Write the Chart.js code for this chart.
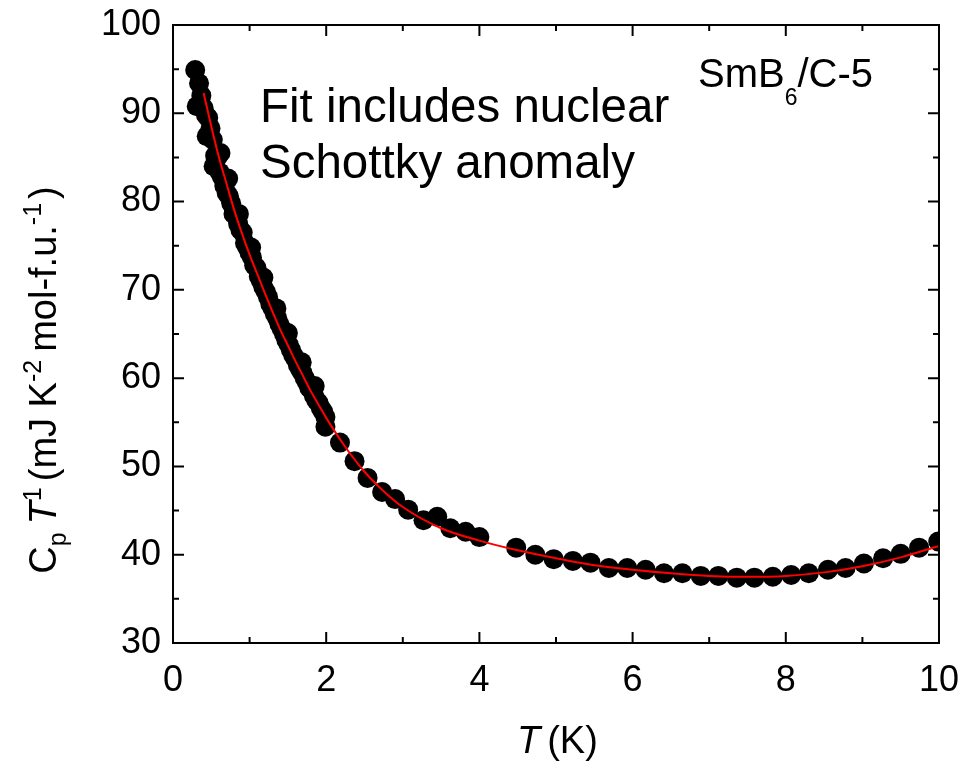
<!DOCTYPE html>
<html>
<head>
<meta charset="utf-8">
<script src="https://cdn.jsdelivr.net/npm/chart.js@4"></script>
<style>
  html, body { margin: 0; padding: 0; background: #fff; }
  #wrap { width: 961px; height: 773px; }
</style>
</head>
<body>
<div id="wrap"><canvas id="cpChart" width="961" height="773"></canvas></div>
<script>
// Measured C_p/T (mJ K^-2 mol-f.u.^-1) vs T (K)
const measT = [
  0.29, 0.34, 0.31, 0.37, 0.40, 0.43, 0.46, 0.44, 0.49, 0.52,
  0.55, 0.53, 0.58, 0.61, 0.64, 0.67, 0.70, 0.73, 0.76, 0.79,
  0.82, 0.85, 0.88, 0.91, 0.94, 0.97, 1.00, 1.03, 1.06, 1.09,
  1.12, 1.15, 1.18, 1.21, 1.24, 1.27, 1.30, 1.33, 1.36, 1.39,
  1.42, 1.45, 1.48, 1.51, 1.54, 1.57, 1.60, 1.63, 1.66, 1.69,
  1.72, 1.75, 1.78, 1.81, 1.84, 1.87, 1.90, 1.93, 1.96, 1.99,
  1.99, 2.18, 2.37, 2.54, 2.73, 2.90, 3.07, 3.27, 3.45, 3.62,
  3.82, 4.00, 4.48, 4.73, 4.97, 5.22, 5.45, 5.69, 5.93, 6.17,
  6.41, 6.65, 6.89, 7.12, 7.36, 7.59, 7.83, 8.07, 8.30, 8.55,
  8.78, 9.02, 9.27, 9.50, 9.74, 9.99,
  0.62, 0.72, 0.86, 1.02, 1.18, 1.35, 1.50, 1.68, 1.85
];
const measC = [
  94.9, 93.4, 90.8, 92.0, 90.6, 89.8, 89.5, 87.4, 88.3, 87.0,
  85.2, 84.0, 85.0, 83.3, 82.8, 81.8, 81.0, 80.6, 79.8, 78.6,
  78.4, 77.5, 76.8, 76.5, 75.3, 74.8, 74.2, 73.7, 72.8, 72.5,
  71.5, 71.0, 70.3, 69.8, 69.2, 68.4, 67.9, 67.3, 66.8, 66.1,
  65.6, 65.0, 64.3, 63.8, 63.2, 62.6, 62.2, 61.5, 61.0, 60.6,
  60.0, 59.5, 58.9, 58.6, 58.0, 57.5, 57.2, 56.6, 56.2, 55.6,
  54.5, 52.7, 50.6, 48.7, 47.1, 46.3, 45.1, 43.9, 44.3, 43.0,
  42.6, 42.0, 40.8, 40.0, 39.5, 39.3, 39.1, 38.5, 38.5, 38.3,
  37.9, 37.9, 37.6, 37.6, 37.4, 37.4, 37.5, 37.7, 37.9, 38.3,
  38.5, 39.0, 39.6, 40.1, 40.8, 41.5,
  85.5, 82.6, 78.6, 74.8, 71.4, 67.9, 65.1, 61.8, 59.1
];

// Fit (including nuclear Schottky anomaly)
const fitT = [0.40, 0.50, 0.60, 0.70, 0.80, 0.90, 1.00, 1.10, 1.20, 1.30,
              1.40, 1.50, 1.60, 1.70, 1.80, 1.90, 2.00, 2.25, 2.50, 2.75,
              3.00, 3.50, 4.00, 4.50, 5.00, 5.50, 6.00, 6.50, 7.00, 7.50,
              8.00, 8.50, 9.00, 9.50, 10.0];
const fitC = [92.3, 88.5, 85.0, 82.0, 79.0, 76.4, 74.0, 71.8, 69.6, 67.5,
              65.5, 63.7, 61.9, 60.2, 58.5, 57.0, 55.5, 52.2, 49.4, 47.2,
              45.4, 43.0, 41.6, 40.5, 39.6, 38.8, 38.3, 37.9, 37.6, 37.5,
              37.6, 38.0, 38.7, 39.7, 41.0];

const xTicks = [0, 2, 4, 6, 8, 10];
const yTicks = [30, 40, 50, 60, 70, 80, 90, 100];

const FONT = '"Liberation Sans", Arial, Helvetica, sans-serif';

function toXY(xs, ys) {
  return xs.map((x, i) => ({ x: x, y: ys[i] }));
}

// text pieces with sub/superscripts
function runWidth(ctx, parts) {
  let w = 0;
  parts.forEach(p => {
    ctx.font = (p.italic ? 'italic ' : '') + p.size + 'px ' + FONT;
    w += ctx.measureText(p.t).width + (p.gap || 0);
  });
  return w;
}
function drawRun(ctx, parts, x, y) {
  parts.forEach(p => {
    ctx.font = (p.italic ? 'italic ' : '') + p.size + 'px ' + FONT;
    ctx.fillText(p.t, x, y + (p.dy || 0));
    x += ctx.measureText(p.t).width + (p.gap || 0);
  });
}

const framePlugin = {
  id: 'frame',
  afterDatasetsDraw(chart) {
    const ctx = chart.ctx;
    const a = chart.chartArea;
    const xs = chart.scales.x, ys = chart.scales.y;
    ctx.save();
    ctx.strokeStyle = '#000';
    ctx.lineWidth = 2;
    ctx.strokeRect(a.left, a.top, a.right - a.left, a.bottom - a.top);
    // inward ticks on all four sides
    ctx.beginPath();
    for (let v = 0; v <= 10; v += 1) {
      const px = xs.getPixelForValue(v);
      const len = v % 2 === 0 ? 11 : 6;
      ctx.moveTo(px, a.bottom); ctx.lineTo(px, a.bottom - len);
      ctx.moveTo(px, a.top); ctx.lineTo(px, a.top + len);
    }
    for (let v = 30; v <= 100; v += 5) {
      const py = ys.getPixelForValue(v);
      const len = v % 10 === 0 ? 11 : 6;
      ctx.moveTo(a.left, py); ctx.lineTo(a.left + len, py);
      ctx.moveTo(a.right, py); ctx.lineTo(a.right - len, py);
    }
    ctx.stroke();
    ctx.restore();
  },
  afterDraw(chart) {
    const ctx = chart.ctx;
    ctx.save();
    ctx.fillStyle = '#000';
    ctx.textBaseline = 'alphabetic';
    ctx.textAlign = 'left';

    // annotation text
    ctx.font = '47.5px ' + FONT;
    ctx.fillText('Fit includes nuclear', 260, 122);
    ctx.fillText('Schottky anomaly', 260, 178);

    drawRun(ctx, [
      { t: 'SmB', size: 40 },
      { t: '6', size: 23, dy: 18 },
      { t: '/C-5', size: 40 }
    ], 698, 87);

    // x axis title
    drawRun(ctx, [
      { t: 'T', size: 38, italic: true, gap: 7 },
      { t: '(K)', size: 38 }
    ], 517, 753);

    // y axis title (rotated)
    const yParts = [
      { t: 'C', size: 38 },
      { t: 'p', size: 25, dy: 10, gap: 8 },
      { t: 'T', size: 38, italic: true },
      { t: '1', size: 25, dy: -15, gap: 6 },
      { t: '(mJ K', size: 38 },
      { t: '-2', size: 25, dy: -15, gap: 8 },
      { t: 'mol-f.u.', size: 38 },
      { t: '-1', size: 25, dy: -15, gap: 4 },
      { t: ')', size: 38 }
    ];
    ctx.translate(56, 380);
    ctx.rotate(-Math.PI / 2);
    const w = runWidth(ctx, yParts);
    drawRun(ctx, yParts, -w / 2, 0);
    ctx.restore();
  }
};

const ctx = document.getElementById('cpChart').getContext('2d');
const cpChart = new Chart(ctx, {
  type: 'scatter',
  data: {
    datasets: [
      {
        label: 'Fit',
        data: toXY(fitT, fitC),
        showLine: true,
        borderColor: '#ff0000',
        borderWidth: 2,
        pointRadius: 0,
        cubicInterpolationMode: 'monotone',
        order: 0
      },
      {
        label: 'SmB6/C-5',
        data: toXY(measT, measC),
        backgroundColor: '#000',
        borderColor: '#000',
        borderWidth: 0,
        pointRadius: 10,
        order: 1
      }
    ]
  },
  options: {
    responsive: false,
    animation: false,
    layout: { padding: { left: 0, top: 25, right: 22, bottom: 0 } },
    plugins: {
      legend: { display: false },
      tooltip: { enabled: false }
    },
    scales: {
      x: {
        type: 'linear',
        min: 0,
        max: 10,
        afterFit(scale) {
          scale.height = 130;
          scale.paddingLeft = 0; scale.paddingRight = 0;
        },
        afterBuildTicks(scale) { scale.ticks = xTicks.map(v => ({ value: v })); },
        grid: { display: false, drawTicks: false },
        border: { display: false },
        ticks: {
          color: '#000',
          padding: 16,
          maxRotation: 0,
          font: { family: FONT, size: 36 }
        }
      },
      y: {
        type: 'linear',
        min: 30,
        max: 100,
        afterFit(scale) {
          scale.width = 173;
          scale.paddingTop = 0; scale.paddingBottom = 0;
        },
        afterBuildTicks(scale) { scale.ticks = yTicks.map(v => ({ value: v })); },
        grid: { display: false, drawTicks: false },
        border: { display: false },
        ticks: {
          color: '#000',
          padding: 12,
          font: { family: FONT, size: 36 }
        }
      }
    }
  },
  plugins: [framePlugin]
});
</script>
</body>
</html>
